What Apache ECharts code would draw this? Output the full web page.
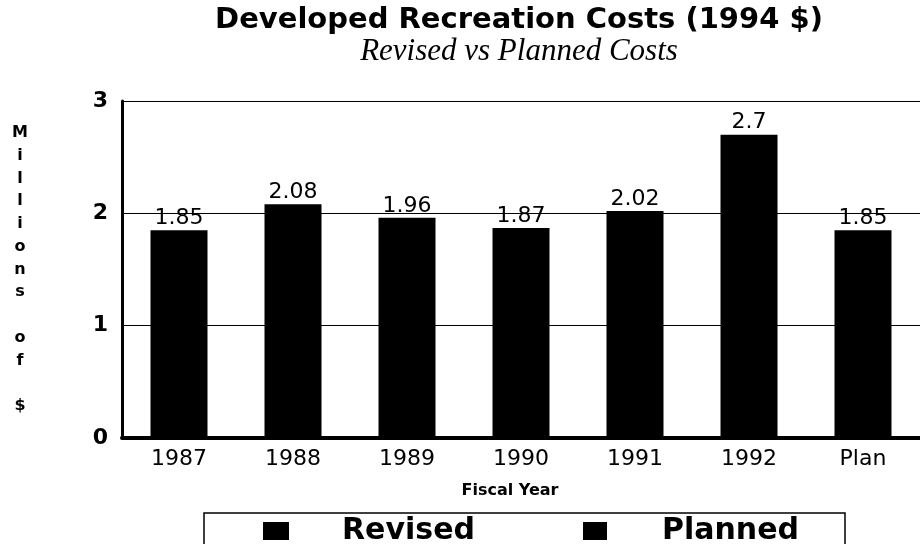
<!DOCTYPE html>
<html>
<head>
<meta charset="utf-8">
<script src="https://cdn.jsdelivr.net/npm/echarts@6/dist/echarts.min.js"></script>
<style>html,body{margin:0;padding:0;background:#fff}#chart{width:920px;height:544px}</style>
</head>
<body>
<div id="chart"></div>
<script>
const categories = ['1987', '1988', '1989', '1990', '1991', '1992', 'Plan'];
const revisedValues = [1.85, 2.08, 1.96, 1.87, 2.02, 2.7, '-'];
const plannedValues = ['-', '-', '-', '-', '-', '-', 1.85];
const yTicks = [0, 1, 2, 3];
const yAxisName = ['M', 'i', 'l', 'l', 'i', 'o', 'n', 's', '', 'o', 'f', '', '$'];

const sans = 'DejaVu Sans';
const chart = echarts.init(document.getElementById('chart'));
const labelCfg = {
  show: true, position: 'top', distance: 1,
  color: '#000', fontFamily: sans, fontSize: 22,
  formatter: p => String(p.value)
};
chart.setOption({
  backgroundColor: '#fff',
  animation: false,
  title: {
    text: 'Developed Recreation Costs (1994 $)',
    subtext: 'Revised vs Planned Costs',
    left: 519, top: 4, textAlign: 'center', itemGap: 0, padding: 0,
    textStyle: { fontFamily: sans, fontWeight: 'bold', fontSize: 29, lineHeight: 32, color: '#000' },
    subtextStyle: { fontFamily: 'Liberation Serif', fontStyle: 'italic', fontSize: 31, lineHeight: 32, color: '#000' }
  },
  grid: { left: 122, top: 101, width: 805, bottom: 106 },
  legend: [
    { data: ['Revised'], left: 263, top: 516, padding: 0, icon: 'rect', itemWidth: 26, itemHeight: 18,
      textStyle: { fontFamily: sans, fontWeight: 'bold', fontSize: 30, color: '#000', padding: [0, 0, 0, 48] } },
    { data: ['Planned'], left: 583, top: 516, padding: 0, icon: 'rect', itemWidth: 24, itemHeight: 18,
      textStyle: { fontFamily: sans, fontWeight: 'bold', fontSize: 30, color: '#000', padding: [0, 0, 0, 50] } }
  ],
  graphic: [
    { type: 'rect', shape: { x: 204, y: 513, width: 641, height: 60 }, style: { fill: 'none', stroke: '#000', lineWidth: 1.5 }, silent: true }
  ],
  xAxis: {
    type: 'category', data: categories,
    name: 'Fiscal Year', nameLocation: 'middle', nameGap: 45,
    nameTextStyle: { fontFamily: sans, fontWeight: 'bold', fontSize: 16, color: '#000', padding: [0, 22, 0, 0] },
    axisLine: { lineStyle: { color: '#000', width: 4 } },
    axisTick: { show: false },
    axisLabel: { color: '#000', fontFamily: sans, fontSize: 22, margin: 10 }
  },
  yAxis: {
    type: 'value', min: yTicks[0], max: yTicks[yTicks.length - 1], interval: 1,
    name: yAxisName.join('\n'), nameLocation: 'middle', nameRotate: 0, nameGap: 102,
    nameTextStyle: { fontFamily: sans, fontWeight: 'bold', fontSize: 16, lineHeight: 22.75, color: '#000', align: 'center' },
    axisLine: { show: true, lineStyle: { color: '#000', width: 3 } },
    axisTick: { show: false },
    axisLabel: { color: '#000', fontFamily: sans, fontWeight: 'bold', fontSize: 22, margin: 14 },
    splitLine: { lineStyle: { color: '#000', width: 1.2 } }
  },
  series: [
    { name: 'Revised', type: 'bar', data: revisedValues, barWidth: '50%', barGap: '-100%',
      itemStyle: { color: '#000' }, label: labelCfg },
    { name: 'Planned', type: 'bar', data: plannedValues, barWidth: '50%', barGap: '-100%',
      itemStyle: { color: '#000' }, label: labelCfg }
  ]
});
</script>
</body>
</html>
